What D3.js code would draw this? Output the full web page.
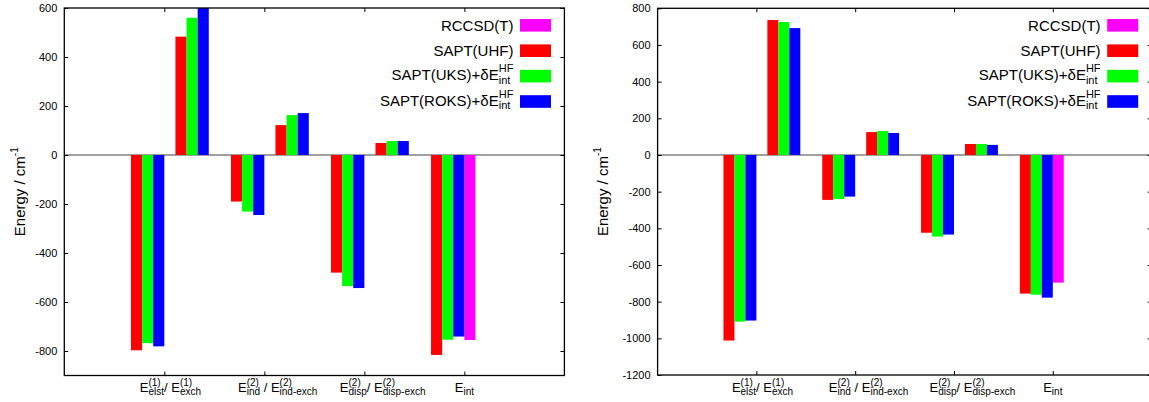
<!DOCTYPE html>
<html>
<head>
<meta charset="utf-8">
<script src="https://cdn.jsdelivr.net/npm/d3@7"></script>
<style>
  body { margin: 0; background: #fff; }
  text { font-family: "Liberation Sans", Arial, sans-serif; fill: #000; white-space: pre; }
</style>
</head>
<body>
<div id="chart"></div>
<script>
// legend entries
const methods = ["RCCSD(T)", "SAPT(UHF)", "SAPT(UKS)+δE", "SAPT(ROKS)+δE"];
const methodScripts = [null, null, ["HF", "int"], ["HF", "int"]];
const colors = ["#ff00ff", "#ff0000", "#00ff00", "#0000ff"];

// category labels, pieces are [text, superscript, subscript]
const categoryLabels = [
    [["E", "(1)", "elst"], ["/ "], ["E", "(1)", "exch"]],
    [["E", "(2)", "ind"], [" / "], ["E", "(2)", "ind-exch"]],
    [["E", "(2)", "disp"], ["/ "], ["E", "(2)", "disp-exch"]],
    [["E", null, "int"]]
];

// left panel: *_1 = elst / ind / disp / int, *_2 = exch partners
const leftRCCSD  = [null, null, null, -755];
const leftUHF_1  = [-797, -190, -480, -816];
const leftUHF_2  = [483, 122, 49, null];
const leftUKS_1  = [-768, -231, -535, -754];
const leftUKS_2  = [560, 163, 57, null];
const leftROKS_1 = [-781, -245, -543, -741];
const leftROKS_2 = [600, 171, 57, null];
const leftYTicks = [-800, -600, -400, -200, 0, 200, 400, 600];

// right panel
const rightRCCSD  = [null, null, null, -696];
const rightUHF_1  = [-1012, -245, -424, -756];
const rightUHF_2  = [736, 125, 60, null];
const rightUKS_1  = [-909, -240, -445, -762];
const rightUKS_2  = [725, 131, 60, null];
const rightROKS_1 = [-903, -227, -434, -778];
const rightROKS_2 = [692, 120, 55, null];
const rightYTicks = [-1200, -1000, -800, -600, -400, -200, 0, 200, 400, 600, 800];

const W = 1149, H = 402;
const svg = d3.select("#chart").append("svg")
    .attr("width", W).attr("height", H);

const panels = [
    {x0: 64.3, x1: 564.4, y0: 8, y1: 375.5, ydom: [-900, 600], yticks: leftYTicks, ylabelX: 25,
     rccsd: leftRCCSD, first: [leftUHF_1, leftUKS_1, leftROKS_1], second: [leftUHF_2, leftUKS_2, leftROKS_2]},
    {x0: 657.6, x1: 1151.6, y0: 8.3, y1: 375, ydom: [-1200, 800], yticks: rightYTicks, ylabelX: 608,
     rccsd: rightRCCSD, first: [rightUHF_1, rightUKS_1, rightROKS_1], second: [rightUHF_2, rightUKS_2, rightROKS_2]}
];

// draws text with stacked super/subscripts, returns widths
function richText(g, pieces, main, script, supDy, subDy) {
    let cx = 0, layoutW = 0;
    pieces.forEach(p => {
        const t = g.append("text").attr("x", cx).attr("y", 0)
            .attr("xml:space", "preserve")
            .style("font-size", main + "px").text(p[0]);
        const w = t.node().getComputedTextLength();
        cx += w; layoutW += w;
        let ws = 0, wb = 0;
        if (p[1]) {
            const ts = g.append("text").attr("x", cx).attr("y", supDy)
                .style("font-size", script + "px").text(p[1]);
            ws = ts.node().getComputedTextLength();
        }
        if (p[2]) {
            const tb = g.append("text").attr("x", cx).attr("y", subDy)
                .style("font-size", script + "px").text(p[2]);
            wb = tb.node().getComputedTextLength();
        }
        cx += Math.max(ws, wb);
        layoutW += p[1] ? ws : wb;
    });
    return {width: cx, layoutW: layoutW};
}

panels.forEach(P => {
    const x = d3.scaleLinear().domain([-1, 4]).range([P.x0, P.x1]);
    const y = d3.scaleLinear().domain(P.ydom).range([P.y1, P.y0]);
    const bw = x(1 / 9) - x(0);

    const g = svg.append("g");

    // zero line
    g.append("line")
        .attr("x1", P.x0).attr("x2", P.x1)
        .attr("y1", y(0)).attr("y2", y(0))
        .attr("stroke", "#808080").attr("stroke-width", 1.5);

    // bars: slot index in units of 1/9
    const bars = [];
    P.rccsd.forEach((v, i) => { if (v != null) bars.push({i: i, slot: 0, v: v, c: colors[0]}); });
    P.first.forEach((arr, s) => arr.forEach((v, i) => {
        if (v != null) bars.push({i: i, slot: s + 1 - 4, v: v, c: colors[s + 1]});
    }));
    P.second.forEach((arr, s) => arr.forEach((v, i) => {
        if (v != null) bars.push({i: i, slot: s + 1, v: v, c: colors[s + 1]});
    }));

    g.selectAll("rect.bar")
        .data(bars)
        .enter()
        .append("rect")
            .attr("class", "bar")
            .attr("x", d => x(d.i + d.slot / 9))
            .attr("width", bw)
            .attr("y", d => y(Math.max(d.v, 0)))
            .attr("height", d => Math.abs(y(d.v) - y(0)))
            .attr("fill", d => d.c);

    // axes (inward ticks, mirrored)
    const yl = g.append("g").attr("transform", "translate(" + P.x0 + ",0)")
        .call(d3.axisLeft(y).tickValues(P.yticks).tickSize(-4).tickPadding(7)
            .tickFormat(d => String(d)));
    const yr = g.append("g").attr("transform", "translate(" + P.x1 + ",0)")
        .call(d3.axisRight(y).tickValues(P.yticks).tickSize(-4).tickFormat(""));
    const xb = g.append("g").attr("transform", "translate(0," + P.y1 + ")")
        .call(d3.axisBottom(x).tickValues([0, 1, 2, 3]).tickSize(-4).tickFormat(""));
    const xt = g.append("g").attr("transform", "translate(0," + P.y0 + ")")
        .call(d3.axisTop(x).tickValues([0, 1, 2, 3]).tickSize(-4).tickFormat(""));
    [yl, yr, xb, xt].forEach(a => {
        a.select(".domain").remove();
        a.selectAll("line").attr("stroke", "#000").attr("stroke-width", 1);
    });
    yl.selectAll("text")
        .style("font-family", "'Liberation Sans', Arial, sans-serif")
        .style("font-size", "11px").attr("fill", "#000");

    // frame
    g.append("rect")
        .attr("x", P.x0).attr("y", P.y0)
        .attr("width", P.x1 - P.x0).attr("height", P.y1 - P.y0)
        .attr("fill", "none").attr("stroke", "#000").attr("stroke-width", 1.3);

    // category labels
    categoryLabels.forEach((pieces, i) => {
        const lg = g.append("g");
        const m = richText(lg, pieces, 13, 10, -6.8, 2.4);
        lg.attr("transform", "translate(" + (x(i) - m.layoutW / 2) + ",392.3)");
    });

    // y label
    const yt = g.append("text")
        .attr("transform", "translate(" + P.ylabelX + "," + ((P.y0 + P.y1) / 2) + ") rotate(-90)")
        .attr("text-anchor", "middle")
        .style("font-size", "15px");
    yt.append("tspan").text("Energy / cm");
    yt.append("tspan").attr("dy", -7).style("font-size", "10px").text("-1");

    // legend
    const textEnd = P.x1 - 51;
    methods.forEach((name, r) => {
        const cy = 25.3 + r * 25.4;
        g.append("rect")
            .attr("x", P.x1 - 44.4).attr("y", cy - 6.3)
            .attr("width", 31).attr("height", 12.6)
            .attr("fill", colors[r]);
        const lg = g.append("g");
        const sc = methodScripts[r];
        const pieces = sc ? [[name, sc[0], sc[1]]] : [[name]];
        const m = richText(lg, pieces, 15, 11, -8, 3.5);
        const base = sc ? cy + 4 : cy + 5.5;
        lg.attr("transform", "translate(" + (textEnd - m.width) + "," + base + ")");
    });
});
</script>
</body>
</html>
